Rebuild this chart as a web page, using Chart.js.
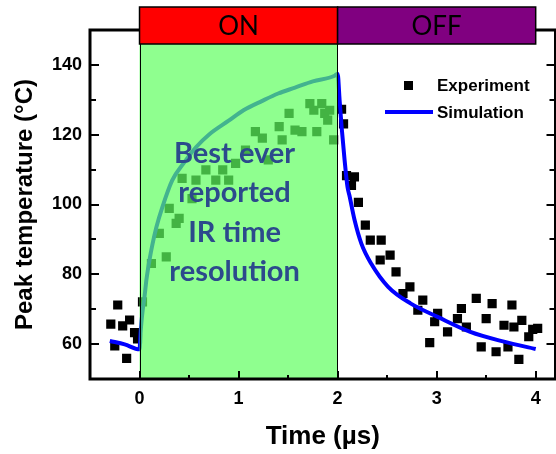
<!DOCTYPE html>
<html>
<head>
<meta charset="utf-8">
<script src="https://cdn.jsdelivr.net/npm/chart.js@4"></script>
<style>
  html, body { margin: 0; padding: 0; overflow: hidden; background: #fff; }
  #wrap { width: 562px; height: 454px; }
</style>
</head>
<body>
<div id="wrap"><canvas id="c" width="562" height="454"></canvas></div>
<script>
// Simulated peak temperature (°C) versus time (µs)
const simTime = [-0.3, -0.15, 0, 0.01, 0.02, 0.033, 0.05, 0.07, 0.1, 0.13, 0.17, 0.23, 0.33, 0.45, 0.57, 0.7, 0.9, 1.05, 1.24, 1.4, 1.57, 1.75, 1.97, 2.0,
                 2.02, 2.04, 2.07, 2.1, 2.12, 2.17, 2.24, 2.34, 2.51, 2.74, 3.01, 3.34, 3.68, 4.0];
const simTemp = [60.9, 59.9, 58.5, 63, 66.5, 70, 73.5, 78.5, 84, 88.5, 93.5, 99.2, 106.9, 112, 116.4, 120, 124, 127, 129.7, 131.8, 133.5, 135.3, 136.9, 137.5,
                 130, 122.4, 112.9, 105, 102.5, 95.7, 88.8, 83, 76.4, 71.6, 67.8, 63.5, 60.7, 58.6];

// Measured peak temperature (°C) versus time (µs)
const expTime = [-0.29, -0.22, -0.17, -0.1, -0.05, -0.25, -0.13, -0.02,
                 0.03, 0.12, 0.2, 0.27, 0.3, 0.37, 0.4, 0.43, 0.53, 0.57, 0.67, 0.77, 0.84, 0.9, 0.97, 1.07, 1.17, 1.24, 1.3, 1.41, 1.44, 1.51, 1.57, 1.64, 1.72, 1.76, 1.79, 1.84, 1.87, 1.9, 1.92, 1.96,
                 2.04, 2.06, 2.09, 2.14, 2.17, 2.21, 2.28, 2.33, 2.44, 2.43, 2.53, 2.59, 2.66, 2.73, 2.81, 2.86, 2.93, 2.98, 3.01, 3.11, 3.21, 3.25, 3.3, 3.4, 3.45, 3.5, 3.56, 3.6, 3.68, 3.72, 3.76, 3.78, 3.83, 3.86, 3.93, 3.97, 4.02];
const expTemp = [65.7, 71.2, 65.2, 66.9, 63.3, 59.5, 55.9, 61.5,
                 72.1, 83.1, 91.7, 85, 98.9, 94.6, 96, 107.5, 101.7, 107, 109.9, 107, 109.9, 107, 111.8, 115.6, 120.9, 119, 112.8, 122.3, 118.5, 126.1, 121.3, 120.9, 128.9, 127, 120.9, 128.9, 126.1, 124.2, 127, 118.5,
                 127.3, 123.1, 108.3, 105.5, 107.9, 100.6, 94.1, 89.8, 89.8, 84.1, 85.5, 80.7, 74.5, 76.4, 69.7, 72.6, 60.4, 66.4, 68.8, 63.5, 67.3, 70.2, 64.9, 73.1, 59.2, 67.3, 71.6, 57.8, 65.4, 59.2, 71.2, 64.9, 55.6, 66.8, 62.1, 64.2, 64.5];

const xTicks = [0, 1, 2, 3, 4];
const yTicks = [60, 80, 100, 120, 140];
const xMinorStep = 0.5;
const yMinorStep = 10;

// Laser phases along the time axis
const phaseLabels = ['ON', 'OFF'];
const phaseStart = [0, 2];
const phaseEnd = [2, 4];
const phaseColors = ['#ff0000', '#800080'];

const noteLines = ['Best ever', 'reported', 'IR time', 'resolution'];
const seriesNames = ['Simulation', 'Experiment'];

const SANS = '"Liberation Sans", Arial, sans-serif';

const overlay = {
  id: 'overlay',
  afterDatasetsDraw(chart) {
    const { ctx, chartArea: a, scales: { x, y } } = chart;
    ctx.save();

    // heating window shading
    const gx0 = x.getPixelForValue(phaseStart[0]);
    const gx1 = x.getPixelForValue(phaseEnd[0]);
    const gTop = 44;
    ctx.fillStyle = 'rgba(95,255,95,0.70)';
    ctx.fillRect(gx0, gTop, gx1 - gx0, a.bottom - gTop);
    ctx.strokeStyle = '#000';
    ctx.lineWidth = 1;
    ctx.beginPath();
    ctx.moveTo(Math.round(gx0) + 0.5, gTop); ctx.lineTo(Math.round(gx0) + 0.5, a.bottom);
    ctx.moveTo(Math.round(gx1) - 0.5, gTop); ctx.lineTo(Math.round(gx1) - 0.5, a.bottom);
    ctx.stroke();

    // annotation
    ctx.fillStyle = '#2c4a8c';
    ctx.font = 'bold 29px Lato, "Open Sans", sans-serif';
    ctx.textAlign = 'center';
    ctx.textBaseline = 'alphabetic';
    const cx = (gx0 + gx1) / 2 - 4;
    const baselines = [163, 202, 242, 281];
    noteLines.forEach((t, i) => ctx.fillText(t, cx, baselines[i]));

    // axis frame
    ctx.strokeStyle = '#000';
    ctx.lineWidth = 3;
    ctx.lineCap = 'square';
    ctx.beginPath();
    ctx.moveTo(a.left, a.top); ctx.lineTo(a.right, a.top);
    ctx.lineTo(a.right, a.bottom); ctx.lineTo(a.left, a.bottom);
    ctx.closePath();
    ctx.stroke();

    // inward tick marks
    ctx.lineWidth = 2;
    ctx.lineCap = 'butt';
    ctx.beginPath();
    for (let v = x.min; v <= x.max + 1e-9; v += xMinorStep) {
      const major = xTicks.some(t => Math.abs(t - v) < 1e-6);
      const px = Math.round(x.getPixelForValue(v));
      if (px <= a.left + 2 || px >= a.right - 2) continue;
      const len = major ? 8 : 4;
      ctx.moveTo(px, a.bottom); ctx.lineTo(px, a.bottom - len);
    }
    for (let v = 50; v <= y.max + 1e-9; v += yMinorStep) {
      const major = yTicks.includes(v);
      const py = Math.round(y.getPixelForValue(v));
      if (py >= a.bottom - 2 || py <= a.top + 2) continue;
      const len = major ? 9 : 6;
      ctx.moveTo(a.left, py); ctx.lineTo(a.left + len, py);
      ctx.moveTo(a.right, py); ctx.lineTo(a.right - len, py);
    }
    ctx.stroke();

    // phase boxes above the plot
    const boxTop = 7, boxH = 37;
    ctx.font = '26px Lato, "Open Sans", sans-serif';
    ctx.textBaseline = 'middle';
    ctx.textAlign = 'center';
    phaseLabels.forEach((lab, i) => {
      const bx0 = x.getPixelForValue(phaseStart[i]);
      const bx1 = x.getPixelForValue(phaseEnd[i]);
      ctx.fillStyle = phaseColors[i];
      ctx.fillRect(bx0, boxTop, bx1 - bx0, boxH);
      ctx.lineWidth = 1.5;
      ctx.strokeStyle = '#000';
      ctx.strokeRect(bx0, boxTop, bx1 - bx0, boxH);
      ctx.fillStyle = '#000';
      ctx.fillText(lab, (bx0 + bx1) / 2, boxTop + boxH / 2 + 1);
    });

    // legend
    ctx.font = 'bold 17px ' + SANS;
    ctx.textAlign = 'left';
    ctx.textBaseline = 'middle';
    ctx.fillStyle = '#000';
    ctx.fillRect(404, 81, 9, 9);
    ctx.fillText(seriesNames[1], 437, 86);
    ctx.strokeStyle = '#0000ff';
    ctx.lineWidth = 4;
    ctx.beginPath(); ctx.moveTo(385, 112); ctx.lineTo(433, 112); ctx.stroke();
    ctx.fillStyle = '#000';
    ctx.fillText(seriesNames[0], 437, 113);

    ctx.restore();
  }
};

const tickFont = { family: SANS, size: 18, weight: 'bold' };

new Chart(document.getElementById('c'), {
  type: 'scatter',
  data: {
    datasets: [
      {
        label: seriesNames[0],
        data: simTime.map((t, i) => ({ x: t, y: simTemp[i] })),
        showLine: true,
        borderColor: '#0000ff',
        borderWidth: 4,
        pointRadius: 0,
        cubicInterpolationMode: 'monotone',
        fill: false
      },
      {
        label: seriesNames[1],
        data: expTime.map((t, i) => ({ x: t, y: expTemp[i] })),
        showLine: false,
        pointStyle: 'rect',
        pointRadius: 6.5,
        backgroundColor: '#000',
        borderWidth: 0
      }
    ]
  },
  options: {
    responsive: false,
    animation: false,
    devicePixelRatio: 1,
    layout: { padding: { left: 0, right: 2, top: 30, bottom: 0 } },
    plugins: { legend: { display: false }, tooltip: { enabled: false } },
    scales: {
      x: {
        type: 'linear',
        min: -0.5,
        max: 4.2,
        border: { display: false },
        grid: { display: false, drawTicks: false, tickLength: 0 },
        afterBuildTicks: s => { s.ticks = xTicks.map(v => ({ value: v })); },
        afterFit: s => { s.height = 75; },
        ticks: { font: tickFont, color: '#000', padding: 9, maxRotation: 0, autoSkip: false },
        title: {
          display: true, text: 'Time (µs)', color: '#000',
          font: { family: SANS, size: 26, weight: 'bold', lineHeight: 1 },
          padding: { top: 0, bottom: 4 }
        }
      },
      y: {
        type: 'linear',
        min: 50,
        max: 150,
        border: { display: false },
        grid: { display: false, drawTicks: false, tickLength: 0 },
        afterBuildTicks: s => { s.ticks = yTicks.map(v => ({ value: v })); },
        afterFit: s => { s.width = 90; },
        ticks: { font: tickFont, color: '#000', padding: 8, autoSkip: false },
        title: {
          display: true, text: 'Peak temperature (°C)', color: '#000',
          font: { family: SANS, size: 24, weight: 'bold', lineHeight: 1 },
          padding: { top: 13, bottom: 0 }
        }
      }
    }
  },
  plugins: [overlay]
});
</script>
</body>
</html>
